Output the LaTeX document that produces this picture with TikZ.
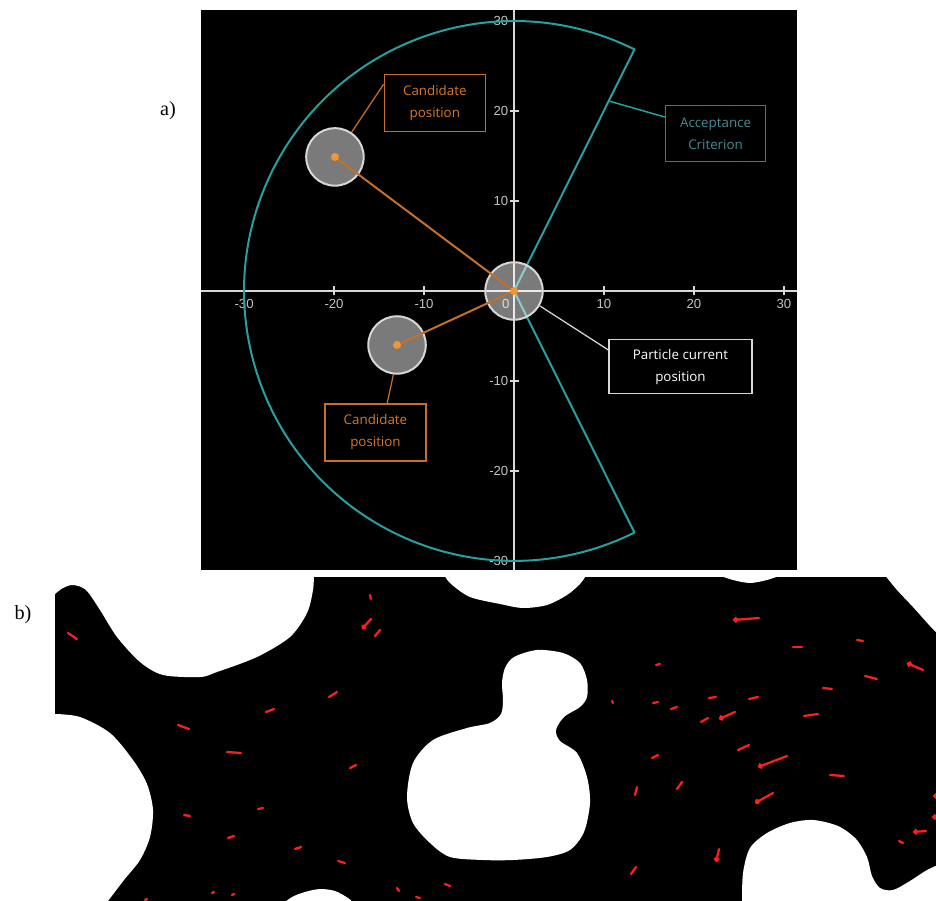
\documentclass[tikz,border=0pt]{standalone}
\usepackage{fontspec}
\setmainfont{Liberation Serif}
\newfontfamily\boxfont{Open Sans}
\newfontfamily\tickfont{Liberation Sans}
\usetikzlibrary{arrows.meta}
\definecolor{accept}{RGB}{38,160,160}
\definecolor{accepttext}{RGB}{70,140,150}
\definecolor{cand}{RGB}{195,112,42}
\definecolor{candtext}{RGB}{215,122,45}
\definecolor{dotorange}{RGB}{240,150,50}
\definecolor{axisgray}{RGB}{215,215,215}
\definecolor{ticktext}{RGB}{195,195,195}
\definecolor{vecred}{RGB}{255,30,30}

\begin{document}
\begin{tikzpicture}[x=0.02cm, y=-0.02cm,
    lbl/.style={draw, line width=0.03cm, align=center, inner sep=0pt, font=\boxfont\fontsize{7.6}{12.5}\selectfont, minimum width=2.02cm, minimum height=1.14cm},
    ptc/.style={circle, draw=axisgray, line width=0.04cm, fill=white, fill opacity=0.48, minimum size=1.15cm, inner sep=0pt},
    cdot/.style={circle, fill=dotorange, minimum size=0.16cm, inner sep=0pt},
    axis/.style={axisgray, line width=0.03cm},
    tick/.style={text=ticktext, font=\tickfont\fontsize{7.5}{8}\selectfont, inner sep=1pt},
    partlbl/.style={font=\fontsize{11.5}{13}\selectfont},
    vec/.style={vecred, line width=0.045cm, line cap=round},
    vecd/.style={vec, {Circle[length=0.11cm]}-}
]
\useasboundingbox (0,0) rectangle (936,901);
\fill[white] (0,0) rectangle (936,901);

\node[partlbl] (lbla) at (168,111) {a)};
\node[partlbl] (lblb) at (23,615) {b)};

% a) sampling scheme
\begin{scope}[shift={(514,291)}, x=0.18cm, y=0.18cm]
\fill[black] (-34.8,-31.0) rectangle (31.5,31.2);
\draw[axis] (-34.8,0) -- (31.5,0);
\draw[axis] (0,-31.0) -- (0,31.2);
\foreach \v [count=\i] in {-30,-20,-10,10,20,30} {
  \draw[axis] (\v,-0.5) -- (\v,0.5);
  \draw[axis] (-0.5,\v) -- (0.5,\v);
  \node[tick] (xt\i) at (\v,-1.4) {\v};
  \node[tick, anchor=east] (yt\i) at (-0.4,\v) {\v};
}
\node[tick] (zero) at (-0.9,-1.4) {0};

% acceptance region
\draw[accept, line width=0.04cm, line join=round] (0,0) -- (63.5:30) arc[start angle=63.5, end angle=296.5, radius=30] -- cycle;

\node[ptc] (cur) at (0,0) {};
\node[ptc] (c1) at (-19.9,14.9) {};
\node[ptc] (c2) at (-13,-6) {};
\draw[cand, line width=0.04cm] (c1.center) -- (cur.center);
\draw[cand, line width=0.04cm] (c2.center) -- (cur.center);
\node[cdot] (curdot) at (cur) {};
\node[cdot] (c1dot) at (c1) {};
\node[cdot] (c2dot) at (c2) {};

% labels
\node[lbl, draw=cand, text=candtext] (c1box) at (-8.8,20.9) {Candidate\\position};
\node[lbl, draw=cand, text=candtext] (c2box) at (-15.4,-15.7) {Candidate\\position};
\node[lbl, draw=accept!85!black, text=accepttext, minimum width=2.0cm, minimum height=1.12cm] (accbox) at (22.4,17.5) {Acceptance\\Criterion};
\node[lbl, draw=axisgray, text=white, minimum width=2.86cm, minimum height=1.08cm] (pbox) at (18.5,-8.4) {Particle current\\position};

\coordinate (accpt) at (63.5:23.6);
\draw[cand, line width=0.025cm] (c1.56) -- (c1box.160);
\draw[cand, line width=0.025cm] (c2.263) -- (c2box.68);
\draw[accept, line width=0.03cm] (accpt) -- (accbox.162);
\draw[axisgray, line width=0.025cm] (cur.-30) -- (pbox.167);
\end{scope}

% b) velocity field in the pore space
\begin{scope}
\clip (55,577) rectangle (936,901);
\fill[black] (55,577) rectangle (936,901);
\fill[white] (45,565) -- (45,598) -- plot[smooth] coordinates {(55,594) (63,588) (73,585) (86,590) (100,610) (117,637) (140,662) (163,675) (200,677) (217,672) (257,657) (290,637) (307,613) (313,590) (314,572)} -- (320,565) -- cycle;
\fill[white] (440,565) -- plot[smooth] coordinates {(444,575) (451,584) (470,597) (500,604) (523,608) (547,605) (567,595) (580,584) (587,574)} -- (592,565) -- cycle;
\fill[white] (715,570) -- plot[smooth] coordinates {(718,575) (733,580) (750,583) (767,580) (782,575)} -- (785,570) -- cycle;
\fill[white] (880,570) -- plot[smooth] coordinates {(884,574) (897,590) (913,607) (930,626) (942,638)} -- (945,638) -- (945,570) -- cycle;
\fill[white] (740,910) -- plot[smooth] coordinates {(742,903) (743,873) (750,848) (767,833) (790,823) (813,820) (838,826) (856,839) (867,857) (872,876) (880,888) (893,890) (910,881) (927,870) (945,862)} -- (945,910) -- cycle;
\fill[white] (45,712) -- plot[smooth] coordinates {(55,714) (80,717) (110,733) (133,760) (147,784) (153,810) (150,837) (140,860) (124,880) (105,905)} -- (45,905) -- cycle;
\fill[white] (280,905) -- plot[smooth] coordinates {(283,904) (292,897) (305,892) (320,889) (335,891) (348,898) (356,905)} -- cycle;
\fill[white] plot[smooth cycle] coordinates {(537,650) (563,653) (580,663) (587,680) (587,697) (580,707) (564,717) (556,730) (560,741) (577,753) (587,777) (590,803) (584,832) (570,850) (547,857) (513,860) (483,860) (450,857) (430,843) (413,823) (407,797) (413,763) (433,740) (467,728) (490,723) (501,714) (503,700) (502,683) (505,668) (514,657)};

\foreach \xa/\ya/\xb/\yb in {68/633/77/639, 370/595/371/599, 375/636/380/630, 329/697/337/692,
  266/712/274/709, 178/725/189/729, 227/752/241/753, 350/768/356/765, 184/815/190/816,
  258/809/263/808, 228/838/234/836, 295/849/301/847, 338/861/345/863, 445/884/450/886,
  212/893/214/892, 232/895/234/894, 397/888/399/891, 416/897/420/898, 145/900/147/899,
  793/647/802/647, 857/640/863/641, 865/676/877/679, 656/665/660/664, 823/688/832/689,
  612/701/613/703, 653/703/658/702, 671/709/677/707, 709/698/716/697, 749/699/758/697,
  701/722/708/718, 804/716/818/714, 738/750/749/745, 652/758/658/755, 830/775/844/776,
  635/795/637/787, 677/789/682/782, 899/841/903/843, 631/874/636/867}
  \draw[vec] (\xa,\ya) -- (\xb,\yb);
\foreach \xa/\ya/\xb/\yb in {362/629/371/619, 733/620/759/618, 907/663/923/670, 719/719/735/712,
  758/767/787/756, 755/803/773/793, 716/862/719/849, 913/832/926/831, 933/796/940/796,
  932/817/940/817}
  \draw[vecd] (\xa,\ya) -- (\xb,\yb);
\end{scope}
\end{tikzpicture}
\end{document}
